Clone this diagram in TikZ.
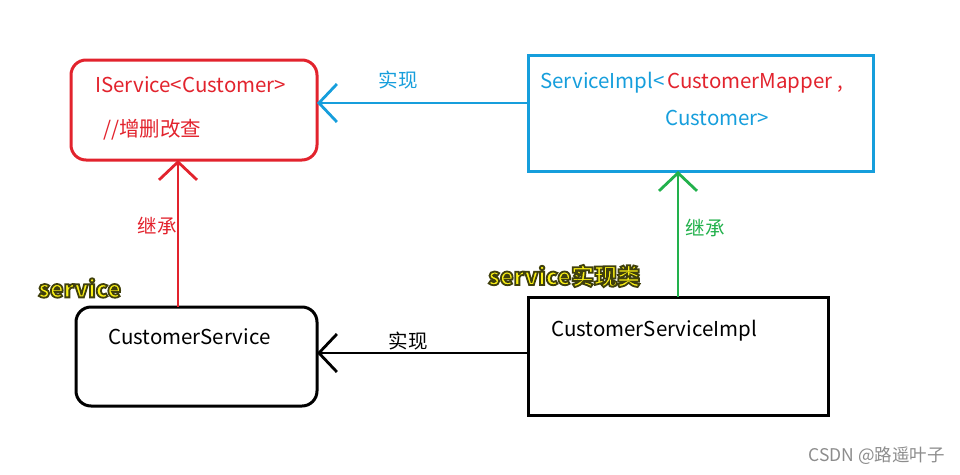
\documentclass[tikz,border=0pt]{standalone}
\usepackage{fontspec}
\setmainfont{Noto Sans CJK SC}
\usetikzlibrary{arrows.meta}
\definecolor{cred}{RGB}{226,35,45}
\definecolor{cblue}{RGB}{22,158,220}
\definecolor{cgreen}{RGB}{34,177,76}
\definecolor{hlyellow}{RGB}{250,240,20}
\tikzset{
  box/.style={line width=3pt},
  txt/.style={anchor=west, inner sep=0pt, font=\fontsize{20.5}{22}\selectfont},
  lbl/.style={inner sep=0pt, font=\fontsize{19.5}{21}\selectfont},
  conn/.style={line width=2.8pt, -{Straight Barb[length=18pt,width=38pt,line width=2.8pt]}},
  hl/.style={anchor=west, inner sep=0pt, text=hlyellow, font=\fontsize{23}{25}\selectfont\bfseries},
}
\newcommand{\outl}[1]{\special{pdf:literal direct 2 Tr 1.8 w 0.25 0.25 0.05 RG}#1\special{pdf:literal direct 0 Tr}}
\begin{document}
\begin{tikzpicture}[x=1pt,y=-1pt]
\useasboundingbox (0,0) rectangle (960,474);
% boxes
\draw[box, cred, rounded corners=15pt] (71,60) rectangle (317,160);
\draw[box, cblue] (528,55) rectangle (873,171);
\draw[box, black, rounded corners=15pt] (76,307) rectangle (317,406);
\draw[box, black] (528,297) rectangle (828,415);
% anchor coordinates on box borders
\coordinate (isvcR) at (317,103);
\coordinate (isvcB) at (178,160);
\coordinate (implL) at (528,103);
\coordinate (implB) at (678,171);
\coordinate (csR) at (317,353);
\coordinate (csT) at (178,307);
\coordinate (csiL) at (528,353);
\coordinate (csiT) at (678,297);
% texts
\node[txt, text=cred] (t1) at (95,85) {IService<Customer>};
\node[txt, text=cred] (t2) at (103,130) {//增删改查};
\node[txt, text=cblue] (t3) at (540,83) {ServiceImpl<};
\node[txt, text=cred] (t4) at (667,83) {CustomerMapper ,};
\node[txt, text=cblue] (t5) at (665,118) {Customer>};
\node[txt] (t6) at (108,337) {CustomerService};
\node[txt] (t7) at (551,331) {CustomerServiceImpl};
% connectors
\draw[conn, cblue] (implL) -- (isvcR);
\draw[conn, cred] (csT) -- (isvcB);
\draw[conn, cgreen] (csiT) -- (implB);
\draw[conn, black] (csiL) -- (csR);
% labels
\node[lbl, text=cblue] (l1) at (398,80) {实现};
\node[lbl, text=cred] (l2) at (157,226) {继承};
\node[lbl, text=cgreen] (l3) at (705,228) {继承};
\node[lbl] (l4) at (408,341) {实现};
\node[hl] (h1) at (38,288) {\outl{service}};
\node[hl] (h2) at (488,276) {\outl{service实现类}};
\node[inner sep=0pt, anchor=east, text=black!45, font=\fontsize{17.5}{19}\selectfont] (wm) at (945,456) {CSDN @路遥叶子};
\end{tikzpicture}
\end{document}
